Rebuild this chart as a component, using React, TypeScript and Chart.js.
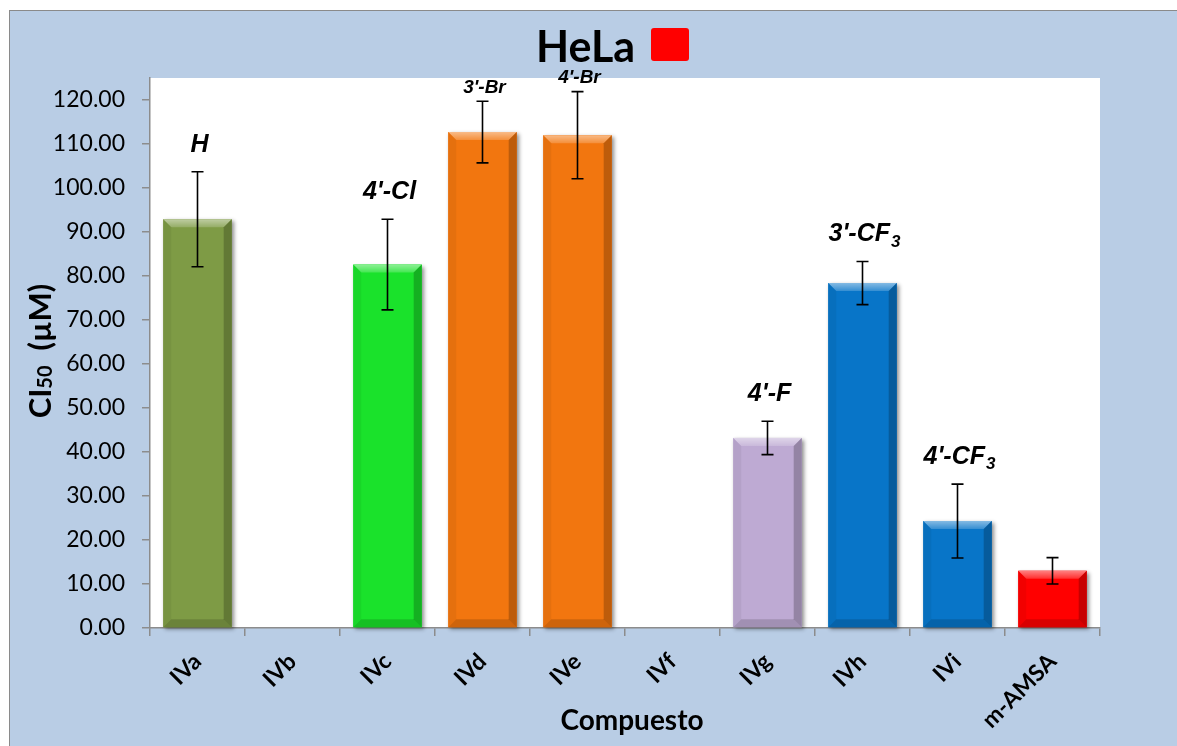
import React, { useEffect, useRef } from 'react';
import { Chart, registerables } from 'chart.js';

Chart.register(...registerables);

// Compounds tested against HeLa cells
const categories = ['IVa', 'IVb', 'IVc', 'IVd', 'IVe', 'IVf', 'IVg', 'IVh', 'IVi', 'm-AMSA'];
// IC50 means (µM) and their standard deviations
const ic50Values = [92.9, 0, 82.6, 112.7, 112.0, 0, 43.2, 78.4, 24.3, 13.0];
const ic50Errors = [10.8, 0, 10.3, 7.0, 9.9, 0, 3.8, 4.9, 8.4, 3.0];
// Substituent on the aryl ring, with an optional subscript part
const substituents = ['H', '', "4'-Cl", "3'-Br", "4'-Br", '', "4'-F", "3'-CF", "4'-CF", ''];
const substituentSubs = ['', '', '', '', '', '', '', '3', '3', ''];
const barColors = ['#7E9B45', '#7E9B45', '#1AE22B', '#F2760F', '#F2760F', '#F2760F', '#BEAAD3', '#0875C8', '#0875C8', '#FF0000'];
const yTickValues = [0, 10, 20, 30, 40, 50, 60, 70, 80, 90, 100, 110, 120];

const chartTitle = 'HeLa';
const yTitleMain = 'CI';
const yTitleSub = '50';
const yTitleTail = '  (µM)';
const xTitle = 'Compuesto';

const UI_FONT = 'Lato, "Open Sans", sans-serif';
const AXIS_GRAY = '#8C8C8C';

// White plot area
const plotAreaPlugin = {
  id: 'plotArea',
  beforeDraw(chart: any) {
    const { ctx, chartArea } = chart;
    ctx.save();
    ctx.fillStyle = '#FFFFFF';
    ctx.fillRect(chartArea.left, chartArea.top, chartArea.right - chartArea.left, chartArea.bottom - chartArea.top);
    ctx.restore();
  },
};

// Drop shadow drawn under every bar
const barShadowPlugin = {
  id: 'barShadow',
  beforeDatasetsDraw(chart: any) {
    const ctx = chart.ctx;
    const meta = chart.getDatasetMeta(0);
    ctx.save();
    meta.data.forEach((bar: any, i: number) => {
      const { x, y, base, width } = bar.getProps(['x', 'y', 'base', 'width'], true);
      if (Math.abs(base - y) < 1) return;
      ctx.shadowColor = 'rgba(0,0,0,0.45)';
      ctx.shadowBlur = 4;
      ctx.shadowOffsetX = 2;
      ctx.shadowOffsetY = 2;
      ctx.fillStyle = barColors[i];
      ctx.fillRect(x - width / 2, y, width, base - y);
    });
    ctx.restore();
  },
};

// Bevel shading, error bars and substituent labels
const barDecorPlugin = {
  id: 'barDecor',
  afterDatasetsDraw(chart: any) {
    const ctx = chart.ctx;
    const yScale = chart.scales.y;
    const area = chart.chartArea;
    const meta = chart.getDatasetMeta(0);
    ctx.save();
    meta.data.forEach((bar: any, i: number) => {
      const { x, y, base, width } = bar.getProps(['x', 'y', 'base', 'width'], true);
      const h = base - y;
      if (h < 1) return;
      const x0 = x - width / 2;
      const x1 = x + width / 2;
      const b = Math.min(8, h / 2);
      // top face
      const g = ctx.createLinearGradient(0, y, 0, y + b);
      g.addColorStop(0, 'rgba(255,255,255,0.5)');
      g.addColorStop(1, 'rgba(255,255,255,0.18)');
      ctx.fillStyle = g;
      ctx.beginPath();
      ctx.moveTo(x0, y);
      ctx.lineTo(x1, y);
      ctx.lineTo(x1 - b, y + b);
      ctx.lineTo(x0 + b, y + b);
      ctx.closePath();
      ctx.fill();
      // left face
      ctx.fillStyle = 'rgba(0,0,0,0.05)';
      ctx.beginPath();
      ctx.moveTo(x0, y);
      ctx.lineTo(x0 + b, y + b);
      ctx.lineTo(x0 + b, base - b);
      ctx.lineTo(x0, base);
      ctx.closePath();
      ctx.fill();
      // right face
      ctx.fillStyle = 'rgba(0,0,0,0.22)';
      ctx.beginPath();
      ctx.moveTo(x1, y);
      ctx.lineTo(x1 - b, y + b);
      ctx.lineTo(x1 - b, base - b);
      ctx.lineTo(x1, base);
      ctx.closePath();
      ctx.fill();
      // bottom face
      ctx.fillStyle = 'rgba(0,0,0,0.15)';
      ctx.beginPath();
      ctx.moveTo(x0, base);
      ctx.lineTo(x0 + b, base - b);
      ctx.lineTo(x1 - b, base - b);
      ctx.lineTo(x1, base);
      ctx.closePath();
      ctx.fill();
    });

    // error bars
    ctx.strokeStyle = '#000';
    ctx.lineWidth = 1.6;
    meta.data.forEach((bar: any, i: number) => {
      const err = ic50Errors[i];
      if (!err) return;
      const x = bar.x;
      const yt = yScale.getPixelForValue(ic50Values[i] + err);
      const yb = yScale.getPixelForValue(ic50Values[i] - err);
      const cap = 6;
      ctx.beginPath();
      ctx.moveTo(x, yt);
      ctx.lineTo(x, yb);
      ctx.moveTo(x - cap, yt);
      ctx.lineTo(x + cap, yt);
      ctx.moveTo(x - cap, yb);
      ctx.lineTo(x + cap, yb);
      ctx.stroke();
    });

    // substituent labels
    ctx.fillStyle = '#000';
    ctx.textBaseline = 'middle';
    meta.data.forEach((bar: any, i: number) => {
      const text = substituents[i];
      if (!text) return;
      const sub = substituentSubs[i];
      const topPx = yScale.getPixelForValue(ic50Values[i] + ic50Errors[i]);
      let size = 25;
      let cy = topPx - 27;
      if (cy < area.top + 20) {
        size = 19;
        cy = topPx - 14;
      }
      const mainFont = `italic bold ${size}px "Liberation Sans", Arial, sans-serif`;
      const subFont = `italic bold ${Math.round(size * 0.68)}px "Liberation Sans", Arial, sans-serif`;
      ctx.font = mainFont;
      const wMain = ctx.measureText(text).width;
      ctx.font = subFont;
      const wSub = sub ? ctx.measureText(sub).width + 1 : 0;
      const startX = bar.x - (wMain + wSub) / 2 + 2;
      ctx.textAlign = 'left';
      ctx.font = mainFont;
      ctx.fillText(text, startX, cy);
      if (sub) {
        ctx.font = subFont;
        ctx.fillText(sub, startX + wMain + 1, cy + size * 0.3);
      }
    });
    ctx.restore();
  },
};

// Chart title with its colour key, and both axis titles
const titlesPlugin = {
  id: 'titles',
  afterDraw(chart: any) {
    const ctx = chart.ctx;
    ctx.save();
    ctx.fillStyle = '#000';
    ctx.textBaseline = 'alphabetic';
    ctx.textAlign = 'left';
    ctx.font = `bold 43px ${UI_FONT}`;
    ctx.fillText(chartTitle, 526, 51);

    // red key square
    ctx.fillStyle = '#FF0000';
    const kx = 641, ky = 17, kw = 38, kh = 33, r = 3;
    ctx.beginPath();
    ctx.moveTo(kx + r, ky);
    ctx.lineTo(kx + kw - r, ky);
    ctx.quadraticCurveTo(kx + kw, ky, kx + kw, ky + r);
    ctx.lineTo(kx + kw, ky + kh - r);
    ctx.quadraticCurveTo(kx + kw, ky + kh, kx + kw - r, ky + kh);
    ctx.lineTo(kx + r, ky + kh);
    ctx.quadraticCurveTo(kx, ky + kh, kx, ky + kh - r);
    ctx.lineTo(kx, ky + r);
    ctx.quadraticCurveTo(kx, ky, kx + r, ky);
    ctx.closePath();
    ctx.fill();

    // y axis title, rotated
    ctx.fillStyle = '#000';
    ctx.translate(31, 340);
    ctx.rotate(-Math.PI / 2);
    const mainF = `bold 31px ${UI_FONT}`;
    const subF = `bold 20px ${UI_FONT}`;
    ctx.font = mainF;
    const w1 = ctx.measureText(yTitleMain).width;
    const w3 = ctx.measureText(yTitleTail).width;
    ctx.font = subF;
    const w2 = ctx.measureText(yTitleSub).width;
    let sx = -(w1 + w2 + w3) / 2;
    ctx.textBaseline = 'middle';
    ctx.font = mainF;
    ctx.fillText(yTitleMain, sx, 0);
    sx += w1;
    ctx.font = subF;
    ctx.fillText(yTitleSub, sx, 5);
    sx += w2;
    ctx.font = mainF;
    ctx.fillText(yTitleTail, sx, 0);
    ctx.setTransform(1, 0, 0, 1, 0, 0);

    // x axis title
    ctx.textAlign = 'center';
    ctx.textBaseline = 'middle';
    ctx.font = `bold 28px ${UI_FONT}`;
    ctx.fillText(xTitle, 622, 710);
    ctx.restore();
  },
};

export default function App() {
  const canvasRef = useRef<HTMLCanvasElement | null>(null);

  useEffect(() => {
    if (!canvasRef.current) return;
    const chart = new Chart(canvasRef.current, {
      type: 'bar',
      data: {
        labels: categories,
        datasets: [
          {
            data: ic50Values,
            backgroundColor: barColors,
            borderWidth: 0,
            barPercentage: 0.72,
            categoryPercentage: 1,
          },
        ],
      },
      options: {
        animation: false,
        responsive: false,
        devicePixelRatio: 1,
        layout: { padding: { top: 67, right: 77, left: 0, bottom: 0 } },
        plugins: {
          legend: { display: false },
          tooltip: { enabled: false },
          title: { display: false },
        },
        scales: {
          x: {
            offset: true,
            grid: {
              display: true,
              offset: true,
              drawOnChartArea: false,
              drawTicks: true,
              tickLength: 8,
              color: AXIS_GRAY,
              lineWidth: 1.5,
            },
            border: { display: true, color: AXIS_GRAY, width: 1.5 },
            ticks: {
              color: '#000',
              font: { family: UI_FONT, size: 23, weight: 'bold' },
              minRotation: 45,
              maxRotation: 45,
              padding: 12,
            },
            afterFit: (s: any) => {
              s.height = 118;
            },
          },
          y: {
            min: 0,
            max: 125,
            afterBuildTicks: (s: any) => {
              s.ticks = yTickValues.map((v) => ({ value: v }));
            },
            grid: {
              display: true,
              drawOnChartArea: false,
              drawTicks: true,
              tickLength: 8,
              color: AXIS_GRAY,
              lineWidth: 1.5,
            },
            border: { display: true, color: AXIS_GRAY, width: 1.5 },
            ticks: {
              color: '#000',
              font: { family: UI_FONT, size: 23 },
              padding: 17,
              callback: (v: any) => Number(v).toFixed(2),
            },
            afterFit: (s: any) => {
              s.width = 140;
            },
          },
        },
      },
      plugins: [plotAreaPlugin, barShadowPlugin, barDecorPlugin, titlesPlugin],
    });
    return () => chart.destroy();
  }, []);

  return (
    <div style={{ position: 'absolute', left: 0, top: 0, width: 1177, height: 746, background: '#fff', overflow: 'hidden' }}>
      <div
        style={{
          position: 'absolute',
          left: 9,
          top: 10,
          width: 1168,
          height: 736,
          background: '#B9CDE5',
          borderLeft: '1px solid #8A8A8A',
          borderTop: '1px solid #8A8A8A',
        }}
      >
        <canvas ref={canvasRef} width={1167} height={735} style={{ display: 'block' }} />
      </div>
    </div>
  );
}
